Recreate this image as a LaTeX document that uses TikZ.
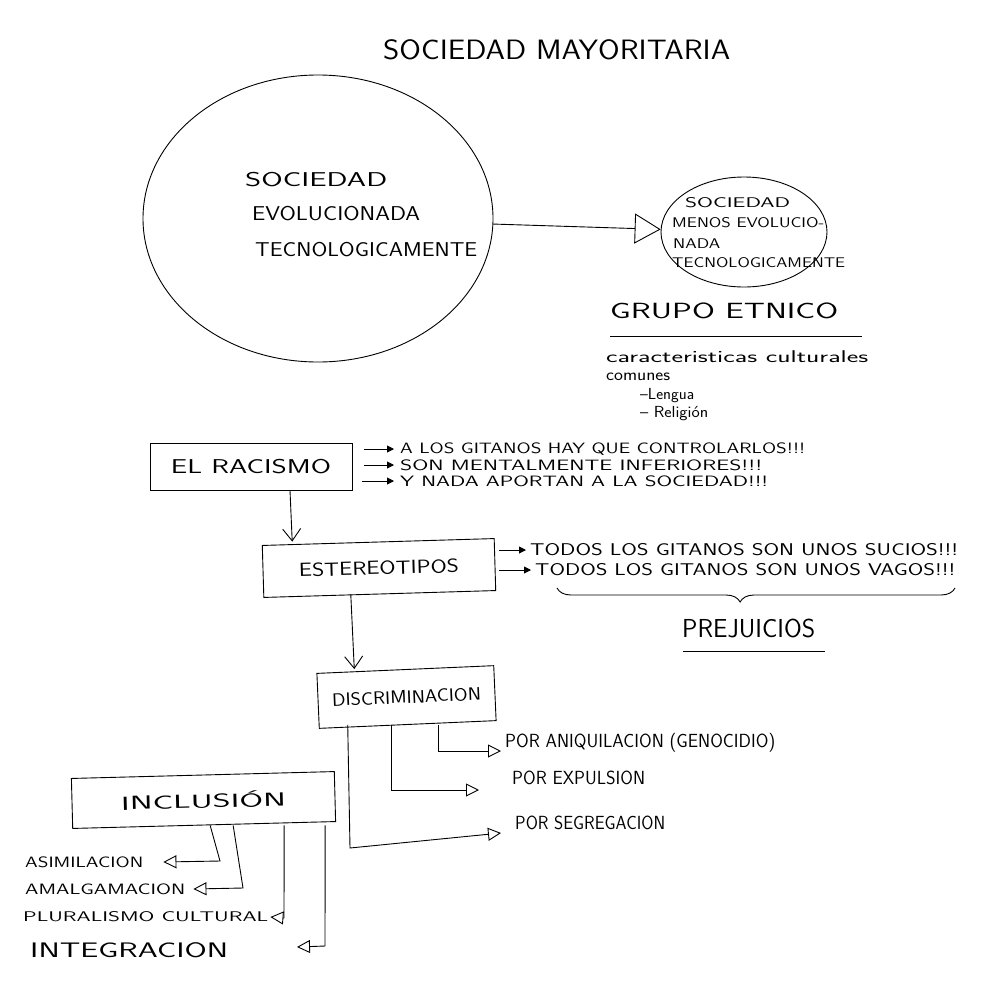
\documentclass[tikz,border=0pt]{standalone}
\usepackage{fontspec}
\usepackage{graphicx}
\usetikzlibrary{arrows.meta,shapes.geometric,decorations.pathreplacing,calc}
\renewcommand{\familydefault}{\sfdefault}
\newcommand{\hw}[3]{\resizebox{#1pt}{\height}{\fontsize{#2}{#2}\selectfont #3}}
\begin{document}
\begin{tikzpicture}[x=1pt,y=-1pt,
  ln/.style={line width=0.9pt},
  box/.style={draw, line width=0.9pt, rectangle, inner sep=0pt},
  lbl/.style={inner sep=0pt, anchor=west},
  bigtri/.style={ln, -{Triangle[open, length=26pt, width=30pt]}},
  otri/.style={ln, -{Triangle[open, length=13pt, width=13pt]}},
  ftri/.style={ln, -{Triangle[length=7pt, width=7pt]}},
  barb/.style={ln, -{Straight Barb[length=12pt, width=18pt]}}]
\fill[white] (0,0) rectangle (985,983);
\useasboundingbox (0,0) rectangle (985,983);

% title
\node[lbl] (title) at (383,50) {\hw{347}{28}{SOCIEDAD MAYORITARIA}};

% big circle
\node[draw, ellipse, ln, minimum width=350pt, minimum height=287pt, inner sep=0pt] (big) at (318,218.5) {};
\node[lbl] (bt1) at (245,180) {\hw{142}{20}{SOCIEDAD}};
\node[lbl] (bt2) at (252,214) {\hw{168}{20}{EVOLUCIONADA}};
\node[lbl] (bt3) at (255,250) {\hw{222}{20}{TECNOLOGICAMENTE}};

% small circle
\node[draw, ellipse, ln, minimum width=166pt, minimum height=110pt, inner sep=0pt] (small) at (744,232) {};
\node[lbl] (st1) at (685,203) {\hw{105}{14}{SOCIEDAD}};
\node[lbl] (st2) at (672,223) {\hw{152}{14}{MENOS EVOLUCIO-}};
\node[lbl] (st3) at (673,244) {\hw{47}{14}{NADA}};
\node[lbl] (st4) at (672,263) {\hw{173}{14}{TECNOLOGICAMENTE}};
\draw[bigtri] (big) -- (small);

% grupo etnico
\node[lbl] (grupo) at (610,311) {\hw{228}{22}{GRUPO ETNICO}};
\coordinate (gu1) at (610,336);
\coordinate (gu2) at (862,336);
\draw[ln] (gu1) -- (gu2);
\node[lbl] (car) at (606,357) {\hw{262}{17}{caracteristicas culturales}};
\node[lbl] (com) at (606,377) {\hw{64}{17}{comunes}};
\node[lbl] (len) at (640,396) {\hw{54}{16}{–Lengua}};
\node[lbl] (rel) at (640,414) {\hw{68}{16}{– Religión}};

% racismo
\node[box, minimum width=202pt, minimum height=47pt] (rac) at (251,466.5) {\hw{160}{20}{EL RACISMO}};
\node[lbl] (r1) at (400,449) {\hw{405}{15}{A LOS GITANOS HAY QUE CONTROLARLOS!!!}};
\node[lbl] (r2) at (400,465) {\hw{362}{15}{SON MENTALMENTE INFERIORES!!!}};
\node[lbl] (r3) at (400,481) {\hw{368}{15}{Y NADA APORTAN A LA SOCIEDAD!!!}};
\coordinate (ra1) at (364,449);
\coordinate (ra2) at (364,465);
\coordinate (ra3) at (362,481);
\draw[ftri] (ra1) -- ([xshift=-6pt]r1.west);
\draw[ftri] (ra2) -- ([xshift=-6pt]r2.west);
\draw[ftri] (ra3) -- ([xshift=-6pt]r3.west);

% estereotipos
\node[box, minimum width=232pt, minimum height=52pt, rotate=1.7] (est) at (379,568) {\hw{160}{19}{ESTEREOTIPOS}};
\draw[barb] ([xshift=39pt]rac.south) -- ([xshift=-86pt]est.north);
\node[lbl] (t1) at (530,550) {\hw{428}{17}{TODOS LOS GITANOS SON UNOS SUCIOS!!!}};
\node[lbl] (t2) at (535,570) {\hw{420}{17}{TODOS LOS GITANOS SON UNOS VAGOS!!!}};
\coordinate (sa1) at (499,550);
\coordinate (sa2) at (499,570);
\draw[ftri] (sa1) -- ([xshift=-4pt]t1.west);
\draw[ftri] (sa2) -- ([xshift=-4pt]t2.west);
\coordinate (br1) at (557,588);
\coordinate (br2) at (955,588);
\draw[ln, decorate, decoration={brace, mirror, amplitude=14pt, aspect=0.46}] (br1) -- (br2);
\node[lbl] (prej) at (682,628) {\hw{133}{26}{PREJUICIOS}};
\coordinate (pu1) at (683,651);
\coordinate (pu2) at (825,651);
\draw[ln] (pu1) -- (pu2);

% discriminacion
\node[box, minimum width=177pt, minimum height=55pt, rotate=2.5] (dis) at (406.5,697) {\hw{149}{18}{DISCRIMINACION}};
\draw[barb] ([xshift=-29pt]est.south) -- ([xshift=-51pt]dis.north);
\node[lbl] (ani) at (505,743) {\hw{270}{19}{POR ANIQUILACION (GENOCIDIO)}};
\node[lbl] (exp) at (512,778) {\hw{133}{19}{POR EXPULSION}};
\node[lbl] (seg) at (515,823) {\hw{150}{19}{POR SEGREGACION}};
\coordinate (dl) at (350,848);
\draw[otri] ([xshift=31pt]dis.south) |- ([xshift=-4pt,yshift=-8pt]ani.west);
\draw[otri] ([xshift=-16pt]dis.south) |- ([xshift=-33pt,yshift=-12pt]exp.west);
\draw[otri] ([xshift=-60pt]dis.south) -- (dl) -- ([xshift=-14pt,yshift=-10pt]seg.west);

% inclusion
\node[box, minimum width=263pt, minimum height=50pt, rotate=1.5] (inc) at (203.5,800) {\hw{165}{19}{INCLUSIÓN}};
\node[lbl] (asim) at (25,862) {\hw{118}{15}{ASIMILACION}};
\node[lbl] (amal) at (25,889) {\hw{160}{15}{AMALGAMACION}};
\node[lbl] (plur) at (23,917) {\hw{245}{14}{PLURALISMO CULTURAL}};
\node[lbl] (integ) at (30,950) {\hw{198}{21}{INTEGRACION}};
\coordinate (i1) at (220,861);
\coordinate (i2) at (243,888);
\coordinate (i3) at (284,918);
\coordinate (i4) at (325,946);
\coordinate (i4t) at (297,947);
\draw[otri] ([xshift=6pt]inc.south) -- (i1) -- ([xshift=20pt]asim.east);
\draw[otri] ([xshift=29pt]inc.south) -- (i2) -- ([xshift=8pt]amal.east);
\draw[otri] ([xshift=80pt]inc.south) -- (i3) -- ([xshift=2pt]plur.east);
\draw[otri] ([xshift=121pt]inc.south) -- (i4) -- (i4t);
\end{tikzpicture}
\end{document}
